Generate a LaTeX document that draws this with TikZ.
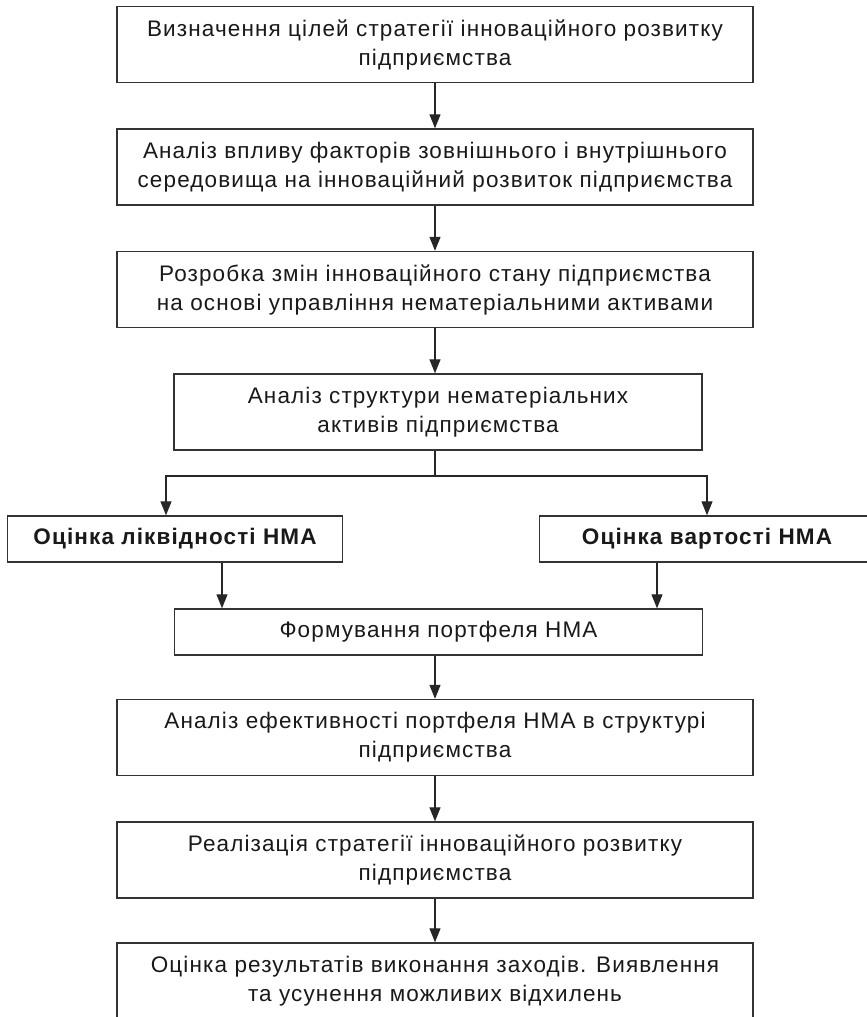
\documentclass[tikz,border=0pt]{standalone}
\usepackage{fontspec}
\setmainfont[LetterSpace=5]{Liberation Sans}
\usetikzlibrary{positioning, arrows.meta}

\begin{document}
\begin{tikzpicture}[
    x=1pt, y=-1pt,
    % Stage box style
    stage/.style={
        rectangle,
        draw=black!80,
        line width=1.4pt,
        fill=white,
        minimum width=636pt,
        minimum height=76pt,
        align=center,
        text=black!90,
        font=\fontsize{22.5}{29}\selectfont
    },
    % Short box style
    shortbox/.style={
        stage,
        minimum width=528pt
    },
    % Evaluation box style
    evalbox/.style={
        stage,
        minimum width=335pt,
        minimum height=46pt,
        font=\fontsize{22.5}{29}\selectfont\bfseries
    },
    % Arrow style
    arrow/.style={
        -{Triangle[length=14pt, width=11pt]},
        line width=1.2pt,
        black!85
    }
]

\useasboundingbox (0,0) rectangle (867,1017);

% === Main chain ===
\node[stage] (goals) at (435, 44.5)
    {Визначення цілей стратегії інноваційного розвитку\\підприємства};
\node[stage] (factors) at (435, 167)
    {Аналіз впливу факторів зовнішнього і внутрішнього\\середовища на інноваційний розвиток підприємства};
\node[stage] (changes) at (435, 289.5)
    {Розробка змін інноваційного стану підприємства\\на основі управління нематеріальними активами};
\node[shortbox] (structure) at (438, 412)
    {Аналіз структури нематеріальних\\активів підприємства};

% === Two evaluations ===
\node[evalbox] (liquidity) at (175, 539) {Оцінка ліквідності НМА};
\node[evalbox] (value) at (707, 539) {Оцінка вартості НМА};

% === Rest of chain ===
\node[shortbox, minimum height=46pt] (portfolio) at (438.5, 632)
    {Формування портфеля НМА};
\node[stage] (efficiency) at (435, 737.5)
    {Аналіз ефективності портфеля НМА в структурі\\підприємства};
\node[stage] (realization) at (435, 860)
    {Реалізація стратегії інноваційного розвитку\\підприємства};
\node[stage] (evaluation) at (435, 981)
    {Оцінка результатів виконання заходів. Виявлення\\та усунення можливих відхилень};

% === Arrows ===
\draw[arrow] (goals) -- (factors);
\draw[arrow] (factors) -- (changes);
\draw[arrow] (changes.south) -- (changes.south |- structure.north);

\coordinate (split) at (435, 476);
\draw[line width=1.2pt, black!85] (structure.south -| split) -- (split);
\draw[arrow] (split) -| ([xshift=-9pt]liquidity.north);
\draw[arrow] (split) -| (value.north);

\draw[arrow] ([xshift=47pt]liquidity.south) -- ([xshift=47pt]liquidity.south |- portfolio.north);
\draw[arrow] ([xshift=-50pt]value.south) -- ([xshift=-50pt]value.south |- portfolio.north);

\draw[arrow] (efficiency.north |- portfolio.south) -- (efficiency.north);
\draw[arrow] (efficiency) -- (realization);
\draw[arrow] (realization) -- (evaluation);

\end{tikzpicture}
\end{document}
